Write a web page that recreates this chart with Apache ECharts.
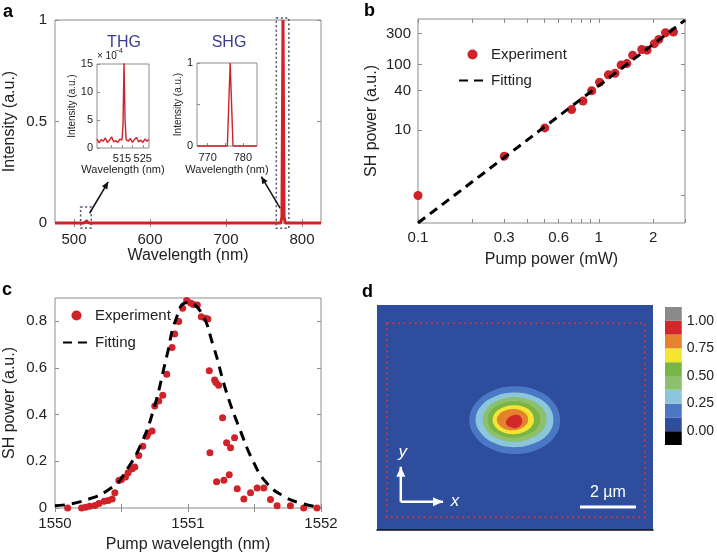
<!DOCTYPE html>
<html>
<head>
<meta charset="utf-8">
<script src="https://cdn.jsdelivr.net/npm/echarts@6/dist/echarts.min.js"></script>
<style>
  html, body { margin: 0; padding: 0; background: #fff; }
  #main { width: 717px; height: 554px; }
</style>
</head>
<body>
<div id="main"></div>
<script>
// ── 数据 ──
// a: full spectrum
const spectrumWl = [475, 512, 515, 516.5, 518, 521, 600, 700, 772, 773.6, 775, 776.4, 778, 825]
const spectrumI = [0, 0, 0.002, 0.012, 0.002, 0, 0, 0, 0, 0.03, 1, 0.03, 0, 0]

// a insets (THG in units of 1e-4)
const thgWl = [503, 504, 505, 506, 507, 508, 509, 510, 511, 512, 513, 514, 515, 515.5, 516, 516.5, 517, 518, 519, 520, 521, 522, 523, 524, 525, 526, 527, 528]
const thgI = [1.6, 0.9, 1.5, 1.2, 1.8, 1.0, 1.4, 2.0, 1.1, 1.3, 1.0, 1.6, 1.4, 4.0, 15.2, 5.0, 1.5, 1.2, 1.7, 1.0, 1.5, 1.9, 1.1, 1.4, 1.0, 1.6, 1.2, 1.5]
const shgWl = [767, 775.6, 776.0, 776.4, 776.8, 777.2, 784]
const shgI = [0, 0, 0.5, 1, 0.5, 0, 0]

// b: power dependence
const pumpPower = [0.1, 0.3, 0.503, 0.708, 0.818, 0.914, 1.01, 1.13, 1.23, 1.33, 1.43, 1.54, 1.73, 1.85, 2.03, 2.15, 2.34, 2.59]
const shPower = [1.0, 4.0, 10.8, 20.6, 27.8, 40, 54, 70, 74, 99, 104, 140, 171, 167, 210, 244, 308, 316]
const fitPower = [0.1, 3]
const fitShPower = [0.38, 480]

// c: wavelength dependence
const pumpWl = [1550.095, 1550.20, 1550.23, 1550.26, 1550.30, 1550.33, 1550.37, 1550.40, 1550.43, 1550.45, 1550.48, 1550.50, 1550.53, 1550.55, 1550.58, 1550.60, 1550.63, 1550.66, 1550.69, 1550.70, 1550.73, 1550.75, 1550.78, 1550.81, 1550.84, 1550.88, 1550.90, 1550.93, 1550.96, 1550.99, 1551.02, 1551.04, 1551.07, 1551.10, 1551.13, 1551.15, 1551.16, 1551.165, 1551.20, 1551.21, 1551.215, 1551.23, 1551.26, 1551.27, 1551.29, 1551.31, 1551.32, 1551.35, 1551.37, 1551.42, 1551.47, 1551.52, 1551.57, 1551.62, 1551.67, 1551.77, 1551.87, 1551.97]
const shSpectrum = [0, 0, 0.003, 0.007, 0.011, 0.019, 0.029, 0.032, 0.039, 0.065, 0.118, 0.122, 0.133, 0.151, 0.168, 0.176, 0.225, 0.265, 0.308, 0.320, 0.330, 0.437, 0.459, 0.483, 0.573, 0.688, 0.746, 0.799, 0.856, 0.889, 0.879, 0.872, 0.870, 0.820, 0.813, 0.810, 0.588, 0.237, 0.549, 0.538, 0.112, 0.526, 0.387, 0.119, 0.280, 0.143, 0.258, 0.301, 0.082, 0.039, 0.065, 0.086, 0.086, 0.036, 0.010, 0.010, 0, 0]
const fitWl = [1550, 1550.21, 1550.44, 1550.54, 1550.64, 1550.74, 1550.84, 1550.91, 1550.99, 1551.09, 1551.19, 1551.29, 1551.39, 1551.49, 1551.59, 1551.72, 1551.84, 1551.99]
const fitSpectrum = [0.01, 0.03, 0.093, 0.165, 0.265, 0.42, 0.65, 0.81, 0.88, 0.846, 0.695, 0.495, 0.337, 0.20, 0.108, 0.05, 0.022, 0.003]

// d: SH image contours (µm), one outline per level
const contourLevels = [0.125, 0.25, 0.375, 0.5, 0.625, 0.75, 0.875]
const contourShapes = [
  [[6.54, 3.93], [6.32, 4.55], [5.74, 4.98], [4.93, 5.14], [4.13, 4.98], [3.52, 4.53], [3.30, 3.90], [3.54, 3.30], [4.13, 2.88], [4.93, 2.72], [5.74, 2.88], [6.34, 3.32]],
  [[6.30, 3.94], [6.12, 4.44], [5.61, 4.78], [4.92, 4.91], [4.23, 4.78], [3.71, 4.42], [3.52, 3.92], [3.73, 3.44], [4.23, 3.09], [4.92, 2.96], [5.61, 3.10], [6.13, 3.45]],
  [[6.06, 3.95], [5.91, 4.36], [5.49, 4.64], [4.92, 4.75], [4.33, 4.63], [3.93, 4.35], [3.78, 3.95], [3.93, 3.55], [4.35, 3.26], [4.92, 3.15], [5.49, 3.27], [5.91, 3.56]],
  [[5.83, 3.95], [5.70, 4.28], [5.36, 4.52], [4.89, 4.60], [4.40, 4.50], [4.08, 4.27], [3.95, 3.95], [4.08, 3.62], [4.42, 3.39], [4.89, 3.30], [5.36, 3.40], [5.70, 3.63]],
  [[5.61, 3.94], [5.51, 4.22], [5.24, 4.40], [4.87, 4.46], [4.50, 4.38], [4.23, 4.20], [4.13, 3.94], [4.23, 3.68], [4.50, 3.49], [4.87, 3.42], [5.24, 3.50], [5.51, 3.69]],
  [[5.40, 3.94], [5.33, 4.14], [5.12, 4.28], [4.84, 4.32], [4.56, 4.26], [4.36, 4.13], [4.28, 3.94], [4.36, 3.75], [4.56, 3.61], [4.84, 3.56], [5.12, 3.62], [5.33, 3.76]],
  [[4.61, 3.89], [4.79, 4.07], [5.04, 4.11], [5.18, 3.96], [5.14, 3.75], [4.96, 3.64], [4.75, 3.68], [4.64, 3.75]]
]

// colour bar
const cbEdges = [-0.125, 0, 0.125, 0.25, 0.375, 0.5, 0.625, 0.75, 0.875, 1, 1.125]
const cbColors = ['#000000', '#2e4d9d', '#4a78c4', '#8cc6dc', '#8dc06c', '#79b545', '#f4e533', '#e5822e', '#d3282a', '#8a8a8a']
const cbTicks = [0, 0.25, 0.5, 0.75, 1]

// ── 注释几何（数据坐标） ──
const aBoxes = [[508.7, 0.079, 522.7, -0.025], [766.2, 1.01, 782.7, -0.026]]
const aArrows = [[520.5, 0.048, 545, 0.203], [771.4, 0.072, 746.5, 0.228]]
const dFrame = [0.36, 0.46, 9.57, 7.39]
const dScaleBar = [7.25, 0.82, 9.25, 0.82]
const dAxesOrigin = [0.85, 1.01]
const dAxesY = [0.85, 2.26]
const dAxesX = [2.36, 1.01]

const FONT = '"Liberation Sans", Arial, sans-serif'
const INK = '#222'
const FRAME = '#8c8c8c'
const RED = '#cf2229'

const pairs = (xs, ys) => xs.map((x, i) => [x, ys[i]])

const bandColor = (v) => {
  for (let i = 0; i < cbColors.length; i++) {
    if (v >= cbEdges[i] && v < cbEdges[i + 1]) return cbColors[i]
  }
  return cbColors[cbColors.length - 1]
}

// arrow head polygon in pixel space
const arrowHead = (p0, p1, size) => {
  const dx = p1[0] - p0[0], dy = p1[1] - p0[1]
  const len = Math.hypot(dx, dy) || 1
  const ux = dx / len, uy = dy / len
  const bx = p1[0] - ux * size, by = p1[1] - uy * size
  const w = size * 0.45
  return [[p1[0], p1[1]], [bx - uy * w, by + ux * w], [bx + uy * w, by - ux * w]]
}

const arrowGroup = (p0, p1, color, width, head) => ({
  type: 'group',
  children: [
    { type: 'line', shape: { x1: p0[0], y1: p0[1], x2: p1[0], y2: p1[1] }, style: { stroke: color, lineWidth: width } },
    { type: 'polygon', shape: { points: arrowHead(p0, p1, head) }, style: { fill: color } }
  ]
})

// framed axis in MATLAB style
function frameAxis(gridIndex, min, max, ticks, labels, opt) {
  opt = opt || {}
  return {
    type: opt.type || 'value',
    gridIndex, min, max,
    logBase: 10,
    position: opt.position,
    axisLine: { show: false },
    axisTick: { show: true, inside: true, length: opt.tickLen || 4, lineStyle: { color: FRAME }, customValues: ticks },
    axisLabel: {
      show: labels !== null, color: INK, fontSize: opt.fontSize || 15, fontFamily: FONT,
      margin: opt.margin || 8, customValues: labels || undefined, formatter: opt.formatter
    },
    splitLine: { show: false },
    name: opt.name, nameLocation: 'middle', nameGap: opt.nameGap, nameRotate: opt.nameRotate,
    nameTextStyle: { color: INK, fontSize: opt.nameSize || 16, fontFamily: FONT }
  }
}

const framed = { show: true, borderColor: FRAME, borderWidth: 1, backgroundColor: 'transparent' }
const plain = (v) => String(v)

const option = {
  animation: false,
  backgroundColor: '#fff',
  textStyle: { fontFamily: FONT },
  grid: [
    Object.assign({ left: 55, top: 20, width: 266, height: 203 }, framed),
    Object.assign({ left: 97, top: 64, width: 52, height: 84 }, framed),
    Object.assign({ left: 197, top: 63, width: 60, height: 83 }, framed),
    Object.assign({ left: 418, top: 19, width: 267, height: 204 }, framed),
    Object.assign({ left: 55, top: 298, width: 266, height: 210 }, framed),
    { left: 377, top: 305, width: 276, height: 225, show: true, backgroundColor: cbColors[1], borderWidth: 0 },
    { left: 665, top: 307, width: 22, height: 138 }
  ],
  xAxis: [
    frameAxis(0, 475, 825, [500, 600, 700, 800], [500, 600, 700, 800], { name: 'Wavelength (nm)', nameGap: 24, margin: 9 }),
    frameAxis(1, 503, 528, [510, 515, 520, 525], [515, 525], { name: 'Wavelength (nm)', nameGap: 16, nameSize: 11, fontSize: 11, margin: 5, tickLen: 3 }),
    frameAxis(2, 767, 784, [770, 775, 780], [770, 780], { name: 'Wavelength (nm)', nameGap: 18, nameSize: 11, fontSize: 11, margin: 6, tickLen: 3 }),
    frameAxis(3, 0.1, 3, [0.1, 0.2, 0.3, 0.4, 0.5, 0.6, 0.7, 0.8, 0.9, 1, 2, 3], [0.1, 0.3, 0.6, 1, 2], { type: 'log', name: 'Pump power (mW)', nameGap: 29, margin: 7 }),
    frameAxis(4, 1550, 1552, [1550, 1550.5, 1551, 1551.5, 1552], [1550, 1551, 1552], { name: 'Pump wavelength (nm)', nameGap: 29, margin: 8, formatter: plain }),
    { type: 'value', gridIndex: 5, min: 0, max: 9.86, axisLine: { show: true, onZero: false, lineStyle: { color: '#111', width: 1.5 } }, axisTick: { show: false }, axisLabel: { show: false }, splitLine: { show: false } },
    { type: 'value', gridIndex: 6, min: 0, max: 1, show: false },
    // mirrored ticks on top edges
    frameAxis(0, 475, 825, [500, 600, 700, 800], null, { position: 'top' }),
    frameAxis(3, 0.1, 3, [0.1, 0.2, 0.3, 0.4, 0.5, 0.6, 0.7, 0.8, 0.9, 1, 2, 3], null, { type: 'log', position: 'top' }),
    frameAxis(4, 1550, 1552, [1550, 1550.5, 1551, 1551.5, 1552], null, { position: 'top' })
  ],
  yAxis: [
    frameAxis(0, 0, 1, [0, 0.5, 1], [0, 0.5, 1], { name: 'Intensity (a.u.)', nameGap: 37, nameRotate: 90 }),
    frameAxis(1, 0, 15, [0, 5, 10, 15], [0, 5, 10, 15], { name: 'Intensity (a.u.)', nameGap: 20, nameRotate: 90, nameSize: 10, fontSize: 11, margin: 4, tickLen: 3 }),
    frameAxis(2, 0, 1, [0, 0.5, 1], [0, 1], { name: 'Intensity (a.u.)', nameGap: 10, nameRotate: 90, nameSize: 10, fontSize: 11, margin: 4, tickLen: 3 }),
    frameAxis(3, 0.38, 500, [1, 10, 40, 100, 300], [10, 40, 100, 300], { type: 'log', name: 'SH power (a.u.)', nameGap: 38, nameRotate: 90, margin: 7 }),
    frameAxis(4, 0, 0.9, [0, 0.2, 0.4, 0.6, 0.8], [0, 0.2, 0.4, 0.6, 0.8], { name: 'SH power (a.u.)', nameGap: 37, nameRotate: 90, margin: 8 }),
    { type: 'value', gridIndex: 5, min: 0, max: 8.04, show: false },
    {
      type: 'value', gridIndex: 6, min: -0.125, max: 1.125, position: 'right',
      axisLine: { show: false }, axisTick: { show: false }, splitLine: { show: false },
      axisLabel: { color: INK, fontSize: 14, fontFamily: FONT, margin: 5, customValues: cbTicks, formatter: (v) => v.toFixed(2) }
    },
    // mirrored ticks on right edges
    frameAxis(0, 0, 1, [0, 0.5, 1], null, { position: 'right' }),
    frameAxis(3, 0.38, 500, [1, 10, 40, 100, 300], null, { type: 'log', position: 'right' }),
    frameAxis(4, 0, 0.9, [0, 0.2, 0.4, 0.6, 0.8], null, { position: 'right' })
  ],
  legend: [
    {
      left: 458, top: 47, orient: 'vertical', padding: 0, itemWidth: 27, itemHeight: 10, itemGap: 11, selectedMode: false,
      data: ['Experiment', { name: 'Fitting', itemStyle: { color: 'transparent', borderWidth: 0 } }],
      textStyle: { fontSize: 15, color: INK, fontFamily: FONT }
    },
    {
      left: 62, top: 308, orient: 'vertical', padding: 0, itemWidth: 27, itemHeight: 10, itemGap: 12, selectedMode: false,
      data: ['Experiment', { name: 'Fitting', itemStyle: { color: 'transparent', borderWidth: 0 } }],
      textStyle: { fontSize: 15, color: INK, fontFamily: FONT }
    }
  ],
  graphic: [
    { type: 'text', x: 3, y: 12, style: { text: 'a', font: 'bold 18px ' + FONT, fill: '#000', verticalAlign: 'middle' } },
    { type: 'text', x: 364, y: 11, style: { text: 'b', font: 'bold 18px ' + FONT, fill: '#000', verticalAlign: 'middle' } },
    { type: 'text', x: 2, y: 290, style: { text: 'c', font: 'bold 18px ' + FONT, fill: '#000', verticalAlign: 'middle' } },
    { type: 'text', x: 362, y: 292, style: { text: 'd', font: 'bold 18px ' + FONT, fill: '#000', verticalAlign: 'middle' } },
    { type: 'text', x: 124, y: 43, style: { text: 'THG', font: '16px ' + FONT, fill: '#3a3c8e', align: 'center', verticalAlign: 'middle' } },
    { type: 'text', x: 229, y: 43, style: { text: 'SHG', font: '16px ' + FONT, fill: '#3a3c8e', align: 'center', verticalAlign: 'middle' } },
    { type: 'text', x: 97, y: 56, style: { text: '× 10', font: '10px ' + FONT, fill: INK, verticalAlign: 'middle' } },
    { type: 'text', x: 115, y: 51, style: { text: '−4', font: '7px ' + FONT, fill: INK, verticalAlign: 'middle' } }
  ],
  series: [
    // a
    {
      type: 'line', xAxisIndex: 0, yAxisIndex: 0, data: pairs(spectrumWl, spectrumI),
      showSymbol: false, clip: false, lineStyle: { color: RED, width: 3 }, silent: true
    },
    {
      type: 'custom', xAxisIndex: 0, yAxisIndex: 0, data: aBoxes, silent: true, z: 3,
      renderItem: (params, api) => {
        const p0 = api.coord([api.value(0), api.value(1)])
        const p1 = api.coord([api.value(2), api.value(3)])
        return {
          type: 'rect',
          shape: { x: p0[0], y: p0[1], width: p1[0] - p0[0], height: p1[1] - p0[1] },
          style: { fill: 'transparent', stroke: '#4a4f66', lineWidth: 1.5, lineDash: [2, 2.5] }
        }
      }
    },
    {
      type: 'custom', xAxisIndex: 0, yAxisIndex: 0, data: aArrows, silent: true, z: 3,
      renderItem: (params, api) => {
        const p0 = api.coord([api.value(0), api.value(1)])
        const p1 = api.coord([api.value(2), api.value(3)])
        return arrowGroup(p0, p1, '#111', 1.5, 7)
      }
    },
    {
      type: 'line', xAxisIndex: 1, yAxisIndex: 1, data: pairs(thgWl, thgI),
      showSymbol: false, lineStyle: { color: RED, width: 1.4 }, silent: true
    },
    {
      type: 'line', xAxisIndex: 2, yAxisIndex: 2, data: pairs(shgWl, shgI),
      showSymbol: false, clip: false, lineStyle: { color: RED, width: 1.4 }, silent: true
    },
    // b
    {
      name: 'Experiment', type: 'scatter', xAxisIndex: 3, yAxisIndex: 3, data: pairs(pumpPower, shPower),
      symbolSize: 9, clip: false, itemStyle: { color: RED, opacity: 1 }, silent: true
    },
    {
      name: 'Fitting', type: 'line', xAxisIndex: 3, yAxisIndex: 3, data: pairs(fitPower, fitShPower), z: 4,
      showSymbol: false, symbol: 'none', itemStyle: { color: '#000' }, lineStyle: { color: '#000', width: 3, type: [9, 6] }, silent: true
    },
    // c
    {
      name: 'Experiment', type: 'scatter', xAxisIndex: 4, yAxisIndex: 4, data: pairs(pumpWl, shSpectrum),
      symbolSize: 7, clip: false, itemStyle: { color: RED, opacity: 1 }, silent: true
    },
    {
      name: 'Fitting', type: 'line', xAxisIndex: 4, yAxisIndex: 4, data: pairs(fitWl, fitSpectrum), z: 4,
      smooth: true, showSymbol: false, symbol: 'none', itemStyle: { color: '#000' }, lineStyle: { color: '#000', width: 3, type: [10, 7] }, silent: true
    },
    // d: contour fills
    {
      type: 'custom', xAxisIndex: 5, yAxisIndex: 5, silent: true,
      data: contourLevels.map((lv, i) => [0, 0, i]),
      renderItem: (params, api) => {
        const i = api.value(2)
        return {
          type: 'polygon',
          shape: { points: contourShapes[i].map((p) => api.coord(p)), smooth: 0.4 },
          style: { fill: bandColor(contourLevels[i]) }
        }
      }
    },
    // d: frame, scale bar, axes glyph
    {
      type: 'custom', xAxisIndex: 5, yAxisIndex: 5, silent: true, z: 5, data: [[0, 0]],
      renderItem: (params, api) => {
        const f0 = api.coord([dFrame[0], dFrame[3]])
        const f1 = api.coord([dFrame[2], dFrame[1]])
        const s0 = api.coord([dScaleBar[0], dScaleBar[1]])
        const s1 = api.coord([dScaleBar[2], dScaleBar[3]])
        const o = api.coord(dAxesOrigin)
        const ay = api.coord(dAxesY)
        const ax = api.coord(dAxesX)
        return {
          type: 'group',
          children: [
            { type: 'rect', shape: { x: f0[0], y: f0[1], width: f1[0] - f0[0], height: f1[1] - f0[1] },
              style: { fill: 'transparent', stroke: '#c2364c', lineWidth: 2, lineDash: [2, 3.5] } },
            { type: 'line', shape: { x1: s0[0], y1: s0[1], x2: s1[0], y2: s1[1] }, style: { stroke: '#fff', lineWidth: 3 } },
            { type: 'text', x: (s0[0] + s1[0]) / 2, y: s0[1] - 6,
              style: { text: '2 µm', fill: '#fff', font: '16px ' + FONT, align: 'center', verticalAlign: 'bottom' } },
            arrowGroup(o, ay, '#fff', 2.5, 10),
            arrowGroup(o, ax, '#fff', 2.5, 10),
            { type: 'text', x: ay[0] + 2, y: ay[1] - 6,
              style: { text: 'y', fill: '#fff', font: 'italic 17px ' + FONT, align: 'center', verticalAlign: 'bottom' } },
            { type: 'text', x: ax[0] + 12, y: ax[1],
              style: { text: 'x', fill: '#fff', font: 'italic 17px ' + FONT, align: 'center', verticalAlign: 'middle' } }
          ]
        }
      }
    },
    // colour bar
    {
      type: 'custom', xAxisIndex: 6, yAxisIndex: 6, silent: true,
      data: cbColors.map((c, i) => [cbEdges[i], cbEdges[i + 1], i]),
      renderItem: (params, api) => {
        const p0 = api.coord([0, api.value(1)])
        const p1 = api.coord([1, api.value(0)])
        return {
          type: 'rect',
          shape: { x: p0[0], y: p0[1], width: p1[0] - p0[0], height: p1[1] - p0[1] },
          style: { fill: cbColors[api.value(2)] }
        }
      }
    }
  ]
}

const chart = echarts.init(document.getElementById('main'), null, { renderer: 'canvas' })
chart.setOption(option)
</script>
</body>
</html>
